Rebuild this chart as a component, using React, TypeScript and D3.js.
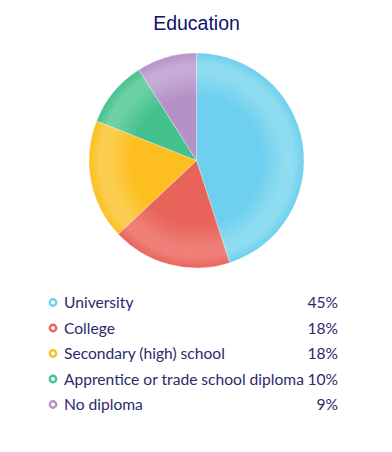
import * as d3 from 'd3';
import React from 'react';

const categories = [
  'University',
  'College',
  'Secondary (high) school',
  'Apprentice or trade school diploma',
  'No diploma',
];
const values = [45, 18, 18, 10, 9];
const colors = ['#6dd0ee', '#e8645b', '#fcbf1f', '#45c18d', '#b592c5'];
const lightColors = ['#8fdcf1', '#ee8079', '#fccd50', '#6dd1a6', '#c6abd6'];

export default function App() {
  const width = 392;
  const height = 452;
  const cx = 196.5;
  const cy = 160.5;
  const radius = 107.5;

  const pie = d3
    .pie<number>()
    .sort(null)
    .value(d => d);
  const arcs = pie(values);
  const arc = d3
    .arc<d3.PieArcDatum<number>>()
    .innerRadius(0)
    .outerRadius(radius);

  const total = d3.sum(values);
  const rowY = d3
    .scalePoint<string>()
    .domain(categories)
    .range([303, 405]);

  return (
    <svg
      width={width}
      height={height}
      style={{ position: 'absolute', left: 0, top: 0, background: '#fff' }}
    >
      <defs>
        {colors.map((c, i) => (
          <radialGradient
            key={i}
            id={`grad${i}`}
            gradientUnits="userSpaceOnUse"
            cx={0}
            cy={0}
            r={radius}
          >
            <stop offset="0" stopColor={c} />
            <stop offset="0.6" stopColor={c} />
            <stop offset="0.82" stopColor={lightColors[i]} />
            <stop offset="0.9" stopColor={lightColors[i]} />
            <stop offset="1" stopColor={c} />
          </radialGradient>
        ))}
      </defs>
      <text
        x={cx}
        y={30}
        textAnchor="middle"
        fontFamily="Liberation Sans, Arial, sans-serif"
        fontSize={19.5}
        fill="#11116e"
      >
        Education
      </text>
      <g transform={`translate(${cx},${cy})`}>
        {arcs.map((a, i) => (
          <path
            key={i}
            d={arc(a) ?? ''}
            fill={`url(#grad${i})`}
            stroke="#fff"
            strokeWidth={0.5}
            strokeOpacity={0.6}
          />
        ))}
      </g>
      {categories.map((c, i) => {
        const y = rowY(c) ?? 0;
        return (
          <g key={c}>
            <circle
              cx={53}
              cy={y - 0.5}
              r={3.2}
              fill="#fff"
              stroke={colors[i]}
              strokeWidth={2.4}
            />
            <text
              x={64}
              y={y + 5}
              fontFamily="Lato, sans-serif"
              fontSize={15.6}
              fill="#2b2b6b"
            >
              {c}
            </text>
            <text
              x={338}
              y={y + 5}
              textAnchor="end"
              fontFamily="Lato, sans-serif"
              fontSize={15.6}
              fill="#2b2b6b"
            >
              {Math.round((values[i] / total) * 100)}%
            </text>
          </g>
        );
      })}
    </svg>
  );
}
